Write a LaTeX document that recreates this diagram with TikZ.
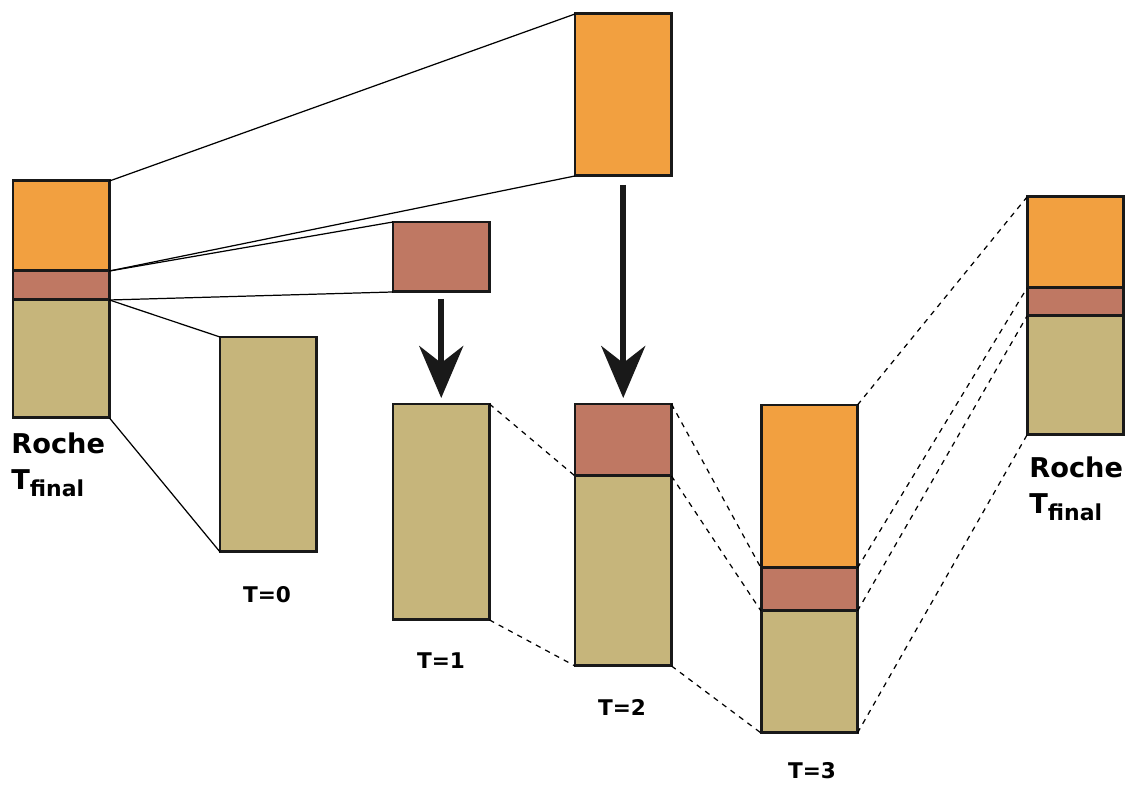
\documentclass[tikz,border=0pt]{standalone}
\usepackage{fontspec}
\newfontfamily\labelfont{DejaVu Sans}
\usepackage{xcolor}
\usetikzlibrary{arrows.meta}
\definecolor{envorange}{RGB}{242,160,64}
\definecolor{shellred}{RGB}{191,120,99}
\definecolor{coretan}{RGB}{198,181,123}

\begin{document}
\begin{tikzpicture}[x=0.02cm,y=-0.02cm,
  layer/.style={draw=black!90,line width=1.7pt,inner sep=0pt,outer sep=0pt,
                anchor=north west,minimum width=1.93cm},
  outer/.style={layer,fill=envorange},
  mid/.style={layer,fill=shellred},
  inner/.style={layer,fill=coretan},
  link/.style={line width=0.7pt},
  dlink/.style={link,dashed},
  drop/.style={-{Stealth[length=1.04cm,width=0.88cm,inset=0.34cm]},
               line width=3.3pt,draw=black!90},
  tlabel/.style={font=\labelfont\bfseries\fontsize{12.3}{14}\selectfont,inner sep=0pt},
  roche/.style={font=\labelfont\bfseries\fontsize{15.5}{21}\selectfont,
                inner sep=0pt,anchor=north west,align=left}
]
\useasboundingbox (0,0) rectangle (1126,786);

% Roche lobe at the end (left)
\node[outer,minimum height=1.8cm]  (lo) at (13,181) {};
\node[mid,minimum height=0.58cm]   (lm) at (13,271) {};
\node[inner,minimum height=2.36cm] (li) at (13,300) {};
\node[roche] (lroche) at (11,432) {Roche\\T\raisebox{-4pt}{\fontsize{12.5}{12}\selectfont final}};

% pieces taken out
\node[inner,minimum height=4.3cm]  (t0)   at (220,337) {};
\node[mid,minimum height=1.4cm]    (rtop) at (393,222) {};
\node[outer,minimum height=3.24cm] (otop) at (575,14) {};

% growth steps
\node[inner,minimum height=4.32cm] (t1)  at (393,404) {};
\node[mid,minimum height=1.44cm]   (t2m) at (575,404) {};
\node[inner,minimum height=3.8cm]  (t2i) at (575,476) {};
\node[outer,minimum height=3.26cm] (t3o) at (761,405) {};
\node[mid,minimum height=0.86cm]   (t3m) at (761,568) {};
\node[inner,minimum height=2.44cm] (t3i) at (761,611) {};

% Roche lobe at the end (right)
\node[outer,minimum height=1.82cm] (ro) at (1027,197) {};
\node[mid,minimum height=0.56cm]   (rm) at (1027,288) {};
\node[inner,minimum height=2.38cm] (ri) at (1027,316) {};
\node[roche] (rroche) at (1029,456) {Roche\\T\raisebox{-4pt}{\fontsize{12.5}{12}\selectfont final}};

\node[tlabel] (l0) at (267,595) {T=0};
\node[tlabel] (l1) at (441,661) {T=1};
\node[tlabel] (l2) at (622,707) {T=2};
\node[tlabel] (l3) at (812,771) {T=3};

% solid links
\draw[link] (lo.north east) -- (otop.north west);
\draw[link] (lo.south east) -- (otop.south west);
\draw[link] (lm.north east) -- (rtop.north west);
\draw[link] (lm.south east) -- (rtop.south west);
\draw[link] (li.north east) -- (t0.north west);
\draw[link] (li.south east) -- (t0.south west);

% dashed links
\draw[dlink] (t1.north east) -- (t2i.north west);
\draw[dlink] (t1.south east) -- (t2i.south west);
\draw[dlink] (t2m.north east) -- (t3m.north west);
\draw[dlink] (t2i.north east) -- (t3i.north west);
\draw[dlink] (t2i.south east) -- (t3i.south west);
\draw[dlink] (t3o.north east) -- (ro.north west);
\draw[dlink] (t3m.north east) -- (rm.north west);
\draw[dlink] (t3i.north east) -- (ri.north west);
\draw[dlink] (t3i.south east) -- (ri.south west);

% arrows
\draw[drop,shorten <=0.14cm,shorten >=0.12cm] (rtop.south) -- (t1.north);
\draw[drop,shorten <=0.18cm,shorten >=0.12cm] (otop.south) -- (t2m.north);
\end{tikzpicture}
\end{document}
